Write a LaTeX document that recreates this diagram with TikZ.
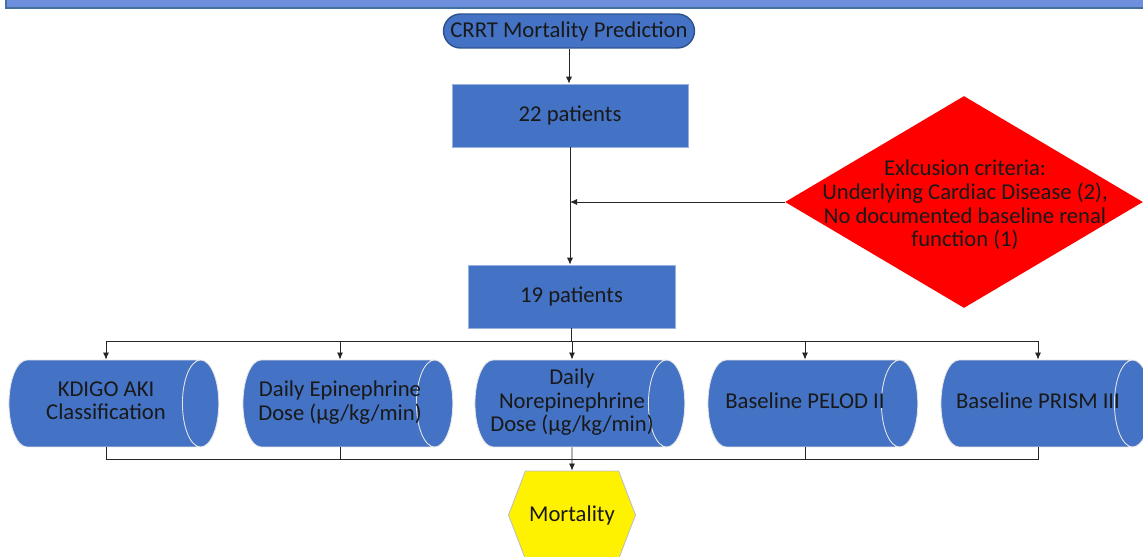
\documentclass[tikz,border=0pt]{standalone}
\usepackage{fontspec}
\setmainfont{Carlito}
\usepackage{tikz}
\usetikzlibrary{positioning, arrows.meta, calc, shapes.geometric, shapes.symbols}

\definecolor{boxblue}{HTML}{4472C4}
\definecolor{edgeblue}{HTML}{2F528F}
\definecolor{bannerblue}{HTML}{6E8EDE}
\definecolor{bannerline}{HTML}{41719C}

% fixed box so that every drum gets the same size
\newcommand{\drumtext}[1]{\parbox[c][1cm][c]{3.2cm}{\makebox[3.2cm]{\hspace*{0.16cm}\raisebox{-0.06cm}{\begin{tabular}{@{}c@{}}#1\end{tabular}}}}}

\begin{document}
\begin{tikzpicture}[x=0.02cm, y=-0.02cm,
  every node/.style={font=\fontsize{12.9}{13.4}\selectfont, text=black!90},
  box/.style={rectangle, fill=boxblue, draw=boxblue!55!white, line width=0.4pt, minimum height=1.26cm},
  drum/.style={cylinder, shape aspect=0.68, fill=boxblue, draw=white!80!gray, line width=0.5pt, minimum height=4.18cm, minimum width=1.74cm, inner xsep=0pt, inner ysep=1pt},
  conn/.style={draw=black!85, line width=0.5pt, -{Latex[length=4pt,width=3.5pt]}},
  wire/.style={draw=black!85, line width=0.5pt}]
\useasboundingbox (0,0) rectangle (1143,557);

% banner at the top edge
\draw[fill=bannerblue, draw=bannerline, line width=1.2pt] (6,-20) rectangle (1160,8);

\node[rectangle, rounded corners=0.34cm, fill=boxblue, draw=edgeblue, line width=0.8pt, minimum width=5.02cm, minimum height=0.68cm, inner sep=0] (start) at (569,31) {CRRT Mortality Prediction};
\node[box, minimum width=4.72cm] (p22) at (570,115.5) {22 patients};
\node[diamond, fill=red, minimum width=7.16cm, minimum height=4.24cm, inner sep=0] (excl) at (964,202) {};
\node[align=center] (excltxt) at (965,205) {Exlcusion criteria:\\Underlying Cardiac Disease (2),\\No documented baseline renal\\function (1)};
\node[box, minimum width=4.14cm] (p19) at (571.5,296.5) {19 patients};

\draw[conn] (start.south) -- (start.south |- p22.north);
\draw[conn] (p22.south) -- (p22.south |- p19.north);
\draw[conn] (excl.west) -- (excl.west -| p22.south);

% the five inputs
\foreach \name/\xx/\txt in {c1/102/{KDIGO AKI\\Classification},
    c2/336/{Daily Epinephrine\\Dose (µg/kg/min)},
    c3/568/{Daily\\Norepinephrine\\Dose (µg/kg/min)},
    c4/801/{Baseline PELOD II},
    c5/1034/{Baseline PRISM III}}
  \node[drum] (\name) at (\xx,403.5) {\drumtext{\txt}};

\foreach \name in {c1,c2,c3,c4,c5}
  \draw[conn] (p19.south) -- ++(0,13) -| ([xshift=0.08cm]\name.north);

\node[signal, signal to=east and west, signal pointer angle=138, fill=yellow, draw=black!25, line width=0.5pt, minimum width=2.54cm, minimum height=1.76cm, inner sep=0] (mort) at (572,515) {Mortality};

\coordinate (merge) at (572,459);
\foreach \name in {c1,c2,c4,c5}
  \draw[wire] ([xshift=0.08cm]\name.south) |- (merge);
\draw[conn] ([xshift=0.08cm]c3.south) -- (mort.north);
\end{tikzpicture}
\end{document}
